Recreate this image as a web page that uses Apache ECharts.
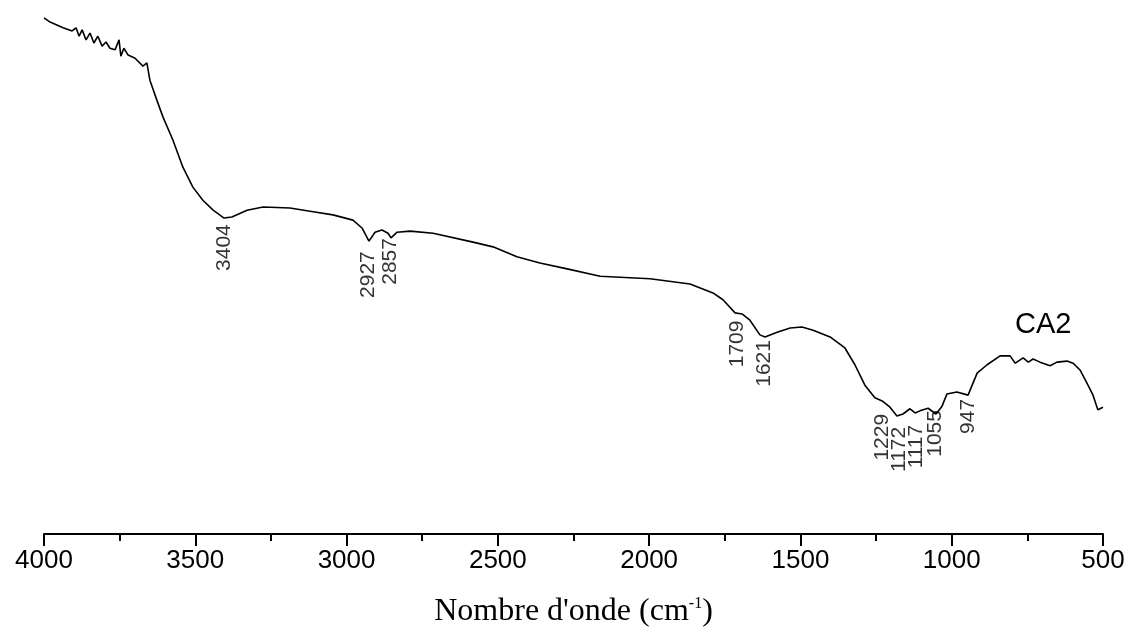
<!DOCTYPE html>
<html>
<head>
  <meta charset="utf-8">
  <title>Spectre IR - CA2</title>
  <script src="https://cdn.jsdelivr.net/npm/echarts@6/dist/echarts.min.js"></script>
  <style>
    html, body { margin: 0; padding: 0; background: #fff; }
    #chart { width: 1132px; height: 627px; }
  </style>
</head>
<body>
  <div id="chart"></div>
  <script>
    // nombre d'onde (cm-1) et transmittance (u.a.)
    const waveNumbers = [
      4000, 3980, 3937, 3907, 3894, 3884, 3874, 3861, 3848, 3835, 3822, 3808, 3795, 3782,
      3765, 3752, 3746, 3736, 3722, 3699, 3673, 3660, 3650, 3627, 3607, 3574, 3541, 3508,
      3475, 3441, 3405, 3379, 3329, 3276, 3187, 3121, 3045, 2979, 2949, 2926, 2906, 2883,
      2863, 2853, 2833, 2790, 2714, 2582, 2516, 2437, 2361, 2271, 2162, 1997, 1865, 1789,
      1756, 1716, 1693, 1667, 1634, 1617, 1577, 1534, 1495, 1458, 1402, 1353, 1320, 1287,
      1254, 1230, 1204, 1181, 1161, 1138, 1121, 1105, 1078, 1052, 1032, 1016, 983, 946,
      916, 883, 840, 807, 790, 764, 747, 731, 708, 675, 652, 619, 599, 576, 553, 533, 517, 500
    ];
    const transmittance = [
      98.5, 97.7, 96.6, 96.0, 96.6, 95.0, 96.2, 94.3, 95.6, 93.7, 95.0, 93.1, 93.9, 92.7,
      92.4, 94.3, 91.2, 92.7, 91.4, 90.8, 89.3, 89.9, 86.6, 82.8, 79.6, 75.2, 70.0, 66.2,
      63.7, 61.8, 60.3, 60.5, 61.8, 62.4, 62.2, 61.6, 60.9, 59.9, 58.4, 55.9, 57.6, 58.0,
      57.4, 56.5, 57.6, 57.8, 57.4, 55.7, 54.8, 52.9, 51.7, 50.6, 49.2, 48.7, 47.7, 46.0,
      44.7, 42.2, 42.0, 40.8, 38.0, 37.6, 38.5, 39.3, 39.5, 38.9, 37.6, 35.5, 32.3, 28.4,
      26.0, 25.4, 24.2, 22.5, 22.9, 23.9, 23.1, 23.5, 24.0, 22.9, 24.4, 26.7, 27.1, 26.5,
      30.7, 32.3, 34.0, 34.0, 32.6, 33.6, 32.8, 33.4, 32.8, 32.1, 32.8, 33.0, 32.6, 31.3,
      28.8, 26.5, 23.7, 24.2
    ];

    // bandes annotées
    const peakNames = ['3404', '2927', '2857', '1709', '1621', '1229', '1172', '1117', '1055', '947'];
    const peakValues = [59.5, 55.3, 56.1, 41.5, 37.4, 25.6, 21.8, 21.8, 22.7, 25.6];
    const peakShift = [-2, -7, 2, -4, -2, -14, -7, -5, 5, 1];

    const xTicks = [4000, 3500, 3000, 2500, 2000, 1500, 1000, 500];
    const sampleName = 'CA2';

    const chart = echarts.init(document.getElementById('chart'));

    const lineData = waveNumbers.map((w, i) => [w, transmittance[i]]);
    const peakData = peakNames.map((p, i) => ({
      value: [Number(p), peakValues[i]],
      label: { offset: [peakShift[i], 0] }
    }));

    chart.setOption({
      animation: false,
      backgroundColor: '#fff',
      title: {
        text: sampleName,
        left: 1010,
        top: 305,
        textStyle: { fontFamily: 'Liberation Sans, Arial', fontWeight: 'normal', fontSize: 29, color: '#000' }
      },
      grid: { left: 44, right: 29, top: 10, bottom: 93, outerBoundsMode: 'none' },
      xAxis: {
        type: 'value',
        inverse: true,
        min: xTicks[xTicks.length - 1],
        max: xTicks[0],
        interval: 500,
        name: '{t|Nombre d\'onde (cm}{s|-1}{t|)}',
        nameLocation: 'middle',
        nameGap: 62,
        nameTextStyle: {
          rich: {
            t: { fontFamily: 'Liberation Serif, Times New Roman', fontSize: 32, color: '#000' },
            s: { fontFamily: 'Liberation Serif, Times New Roman', fontSize: 16, color: '#000', verticalAlign: 'top', padding: [0, 0, 16, 0] }
          }
        },
        axisLine: { lineStyle: { color: '#000', width: 2 } },
        axisTick: { length: 12, lineStyle: { color: '#000', width: 2 } },
        minorTick: { show: true, splitNumber: 2, length: 7, lineStyle: { color: '#000', width: 2 } },
        splitLine: { show: false },
        axisLabel: {
          margin: 14,
          formatter: v => String(v),
          fontFamily: 'Liberation Sans, Arial',
          fontSize: 26,
          color: '#000'
        }
      },
      yAxis: {
        type: 'value',
        min: 0,
        max: 100,
        show: false
      },
      series: [
        {
          name: sampleName,
          type: 'line',
          data: lineData,
          showSymbol: false,
          lineStyle: { color: '#000', width: 1.6 }
        },
        {
          name: 'bandes',
          type: 'scatter',
          data: peakData,
          symbolSize: 0,
          silent: true,
          label: {
            show: true,
            formatter: p => String(p.value[0]),
            position: 'inside',
            rotate: 90,
            align: 'right',
            verticalAlign: 'middle',
            fontFamily: 'Liberation Sans, Arial',
            fontSize: 21,
            color: '#000'
          }
        }
      ]
    });
  </script>
</body>
</html>
